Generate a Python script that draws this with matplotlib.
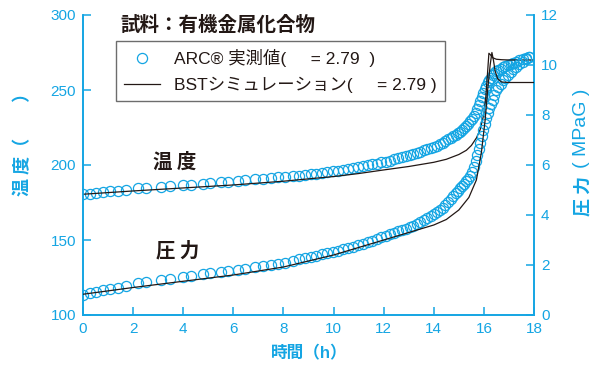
import matplotlib
matplotlib.use("Agg")
import matplotlib.pyplot as plt

# measured points (ARC), time in h
t_meas = [0.00, 0.27, 0.53, 0.80, 1.06, 1.38, 1.70, 2.18, 2.53, 3.13, 3.46, 4.00, 4.32,
          4.79, 5.08, 5.50, 5.80, 6.17, 6.46, 6.86, 7.20, 7.49, 7.79, 8.08, 8.39,
          8.62, 8.85, 9.08, 9.30, 9.52, 9.74, 9.96, 10.17, 10.38, 10.58, 10.78, 10.98,
          11.17, 11.36, 11.55, 11.73, 11.91, 12.08, 12.25, 12.42, 12.58, 12.74, 12.89,
          13.04, 13.19, 13.33, 13.47, 13.61, 13.74, 13.87, 14.00,
          14.12, 14.24, 14.35, 14.46, 14.57, 14.67, 14.77, 14.87, 14.96, 15.05, 15.14,
          15.22, 15.30, 15.38, 15.46, 15.53, 15.60, 15.67, 15.74, 15.80, 15.86, 15.92, 15.98,
          16.04, 16.10, 16.16, 16.22, 16.28, 16.35, 16.42, 16.50, 16.58, 16.67, 16.76,
          16.86, 16.96, 17.07, 17.18, 17.30, 17.42, 17.55, 17.68, 17.80]

temp_meas = [180.5, 181.0, 181.5, 182.0, 182.4, 183.0, 183.6, 184.4, 184.9, 185.5, 185.9, 186.7, 187.0,
             187.6, 187.9, 188.5, 188.9, 189.4, 189.8, 190.4, 190.8, 191.2, 191.7, 192.1, 192.6,
             193.0, 193.4, 193.8, 194.2, 194.6, 195.2, 195.7, 196.2, 196.8, 197.3, 197.9, 198.4,
             199.1, 199.7, 200.4, 201.0, 201.7, 202.3, 203.0, 203.8, 204.5, 205.2, 206.0,
             206.7, 207.5, 208.2, 209.0, 209.8, 210.5, 211.2, 212.0,
             213.0, 214.0, 215.0, 216.1, 217.1, 218.1, 219.1, 220.1, 221.1, 222.2, 223.4,
             224.6, 226.0, 227.5, 229.2, 230.8, 232.5, 235.0, 237.6, 240.0, 242.7, 245.4, 248.1,
             250.7, 253.0, 255.1, 256.9, 258.3, 259.8, 261.1, 262.5, 263.4, 264.3, 265.1,
             265.9, 266.7, 267.5, 268.2, 269.0, 269.8, 270.6, 271.4, 272.2]

pres_meas = [0.80, 0.87, 0.93, 0.99, 1.04, 1.10, 1.17, 1.27, 1.32, 1.40, 1.44, 1.53, 1.57,
             1.63, 1.67, 1.72, 1.77, 1.82, 1.86, 1.91, 1.95, 1.99, 2.03, 2.08, 2.16,
             2.24, 2.29, 2.34, 2.38, 2.43, 2.48, 2.53, 2.58, 2.63, 2.68, 2.74, 2.79,
             2.85, 2.91, 2.98, 3.04, 3.11, 3.17, 3.23, 3.29, 3.35, 3.41, 3.46,
             3.52, 3.58, 3.65, 3.72, 3.80, 3.88, 3.96, 4.05,
             4.13, 4.22, 4.30, 4.40, 4.52, 4.63, 4.75, 4.87, 4.97, 5.07, 5.16,
             5.25, 5.35, 5.46, 5.58, 5.74, 5.93, 6.15, 6.40, 6.65, 6.90, 7.15, 7.42,
             7.65, 7.87, 8.07, 8.27, 8.45, 8.62, 8.79, 9.00, 9.13, 9.26, 9.38,
             9.49, 9.60, 9.72, 9.83, 9.94, 10.05, 10.14, 10.24, 10.31]

# BST simulation
t_sim_temp = [0, 2, 4, 6, 8, 10, 11, 12, 13, 14, 14.5, 15, 15.3, 15.5, 15.7, 15.85, 16.0,
              16.08, 16.14, 16.2, 16.26, 16.35, 16.5, 16.7, 17.0, 17.5, 18.0]
temp_sim = [180.5, 182.7, 184.7, 186.7, 189.2, 192.3, 194.3, 196.7, 199.0, 201.8, 203.8, 207.0,
            209.8, 213.0, 218.0, 223.5, 234.0, 246.0, 260.0, 274.5, 273.5, 271.5, 270.5, 270.2,
            270.0, 270.0, 270.0]

t_sim_pres = [0, 2, 4, 6, 8, 10, 12, 13, 14, 14.5, 15, 15.4, 15.7, 15.9, 16.05, 16.15, 16.25,
              16.32, 16.38, 16.45, 16.55, 16.7, 17.0, 18.0]
pres_sim = [0.83, 1.10, 1.35, 1.60, 1.92, 2.40, 3.00, 3.30, 3.60, 3.82, 4.20, 4.70, 5.40, 6.50,
            7.80, 9.00, 10.00, 10.50, 10.20, 9.75, 9.45, 9.32, 9.30, 9.30]

CYAN = "#14a5e3"
INK = "#231815"
JP = ["Noto Sans CJK JP", "DejaVu Sans"]
LAT = ["Liberation Sans", "Noto Sans CJK JP", "DejaVu Sans"]

W, H = 603, 366
fig = plt.figure(figsize=(W / 100, H / 100), dpi=100)
ax = fig.add_axes([83 / W, 1 - 315 / H, 451 / W, 300 / H])
ax2 = ax.twinx()

ax.plot(t_meas, temp_meas, "o", ms=7.3, mfc="none", mec=CYAN, mew=0.9, zorder=3)
ax.plot(t_sim_temp, temp_sim, "-", color=INK, lw=0.9, zorder=4)
ax2.plot(t_meas, pres_meas, "o", ms=7.3, mfc="none", mec=CYAN, mew=0.9, zorder=3)
ax2.plot(t_sim_pres, pres_sim, "-", color=INK, lw=0.9, zorder=4)

ax.set_xlim(0, 18)
ax.set_ylim(100, 300)
ax2.set_ylim(0, 12)
ax.set_xticks(range(0, 19, 2))
ax.set_yticks(range(100, 301, 50))
ax2.set_yticks(range(0, 13, 2))

for a in (ax, ax2):
    for side in ("left", "right", "bottom"):
        a.spines[side].set_color(CYAN)
        a.spines[side].set_linewidth(1.2)
    a.spines["top"].set_visible(False)
    a.tick_params(direction="in", length=6, width=1.1, color=CYAN, labelcolor=CYAN,
                  labelsize=11, pad=5)
    for lab in a.get_xticklabels() + a.get_yticklabels():
        lab.set_family(LAT)

# legend
h1, = ax.plot([], [], "o", ms=7.3, mfc="none", mec=CYAN, mew=0.9)
h2, = ax.plot([], [], "-", color=INK, lw=0.9)
leg = ax.legend([h1, h2],
                ["ARC® 実測値(     = 2.79  )", "BSTシミュレーション(     = 2.79 )"],
                loc="upper left", bbox_to_anchor=(0.073, 0.912), borderaxespad=0,
                prop={"family": LAT, "size": 12.5}, handlelength=2.1, handletextpad=0.8,
                labelspacing=0.55, borderpad=0.45, fancybox=False, framealpha=1,
                edgecolor="#6d6d6d")
leg.get_frame().set_linewidth(1.0)
for txt in leg.get_texts():
    txt.set_color(INK)

# texts
fig.text(120 / W, 1 - 25 / H, "試料：有機金属化合物", family=JP, weight="bold",
         fontsize=14, color=INK, va="center", ha="left")
fig.text(175 / W, 1 - 162 / H, "温 度", family=JP, weight="bold", fontsize=14,
         color=INK, va="center", ha="center")
fig.text(178 / W, 1 - 251 / H, "圧 力", family=JP, weight="bold", fontsize=14,
         color=INK, va="center", ha="center")
fig.text(309 / W, 1 - 353 / H, "時間（h）", family=LAT, weight="bold", fontsize=12,
         color=CYAN, va="center", ha="center")
fig.text(23 / W, 1 - 140 / H, "温 度（　　）", family=JP, weight="bold", fontsize=13,
         color=CYAN, va="center", ha="center", rotation=90)
fig.text(583 / W, 1 - 196 / H, "圧 力", family=JP, weight="bold", fontsize=13,
         color=CYAN, va="center", ha="center", rotation=90)
fig.text(582 / W, 1 - 128 / H, "( MPaG )", family=LAT, fontsize=14,
         color=CYAN, va="center", ha="center", rotation=90)

fig.savefig("out.png", dpi=100)
